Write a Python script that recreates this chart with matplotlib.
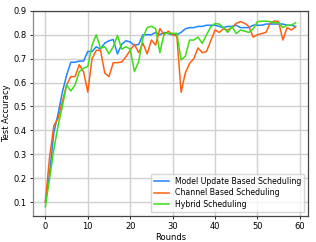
import matplotlib
matplotlib.use("Agg")
import matplotlib.pyplot as plt
import numpy as np

rounds = np.arange(60)

model_update = [0.10, 0.22, 0.39, 0.47, 0.56, 0.63, 0.685, 0.685, 0.69, 0.69,
                0.73, 0.73, 0.75, 0.74, 0.765, 0.775, 0.78, 0.72, 0.76, 0.775,
                0.77, 0.755, 0.76, 0.80, 0.80, 0.80, 0.81, 0.80, 0.81, 0.805,
                0.80, 0.80, 0.81, 0.825, 0.83, 0.83, 0.835, 0.835, 0.84, 0.84,
                0.84, 0.835, 0.83, 0.835, 0.835, 0.84, 0.83, 0.83, 0.83, 0.84,
                0.84, 0.84, 0.845, 0.845, 0.845, 0.845, 0.845, 0.84, 0.84, 0.835]

channel_based = [0.10, 0.29, 0.42, 0.45, 0.52, 0.59, 0.625, 0.625, 0.675, 0.645,
                 0.56, 0.70, 0.735, 0.735, 0.64, 0.625, 0.683, 0.683, 0.686, 0.708,
                 0.735, 0.76, 0.725, 0.765, 0.72, 0.778, 0.757, 0.826, 0.80, 0.815,
                 0.80, 0.795, 0.56, 0.64, 0.68, 0.70, 0.745, 0.725, 0.73, 0.775,
                 0.82, 0.81, 0.825, 0.82, 0.83, 0.848, 0.855, 0.848, 0.835, 0.79,
                 0.80, 0.805, 0.81, 0.848, 0.858, 0.855, 0.778, 0.83, 0.82, 0.833]

hybrid = [0.08, 0.20, 0.32, 0.42, 0.50, 0.59, 0.565, 0.59, 0.646, 0.66,
          0.667, 0.757, 0.80, 0.744, 0.75, 0.72, 0.75, 0.797, 0.74, 0.75,
          0.74, 0.646, 0.688, 0.787, 0.83, 0.836, 0.825, 0.725, 0.806, 0.806,
          0.806, 0.806, 0.695, 0.71, 0.778, 0.778, 0.79, 0.764, 0.80, 0.833,
          0.847, 0.845, 0.83, 0.81, 0.835, 0.805, 0.82, 0.815, 0.81, 0.825,
          0.855, 0.857, 0.857, 0.855, 0.85, 0.85, 0.83, 0.84, 0.84, 0.85]

labels = ["Model Update Based Scheduling", "Channel Based Scheduling", "Hybrid Scheduling"]
colors = ["#1f85ff", "#ff6010", "#3ddc1a"]

plt.rcParams["font.family"] = ["DejaVu Sans"]
plt.rcParams["font.size"] = 6

fig = plt.figure(figsize=(3.16, 2.42), dpi=100)
ax = fig.add_axes([0.104, 0.107, 0.871, 0.848])

for series, label, color in zip([model_update, channel_based, hybrid], labels, colors):
    ax.plot(rounds, series, color=color, lw=1.1, label=label)

ax.grid(True, color="#d0d0d0", lw=1.0)
ax.set_axisbelow(True)
ax.set_xticks([0, 10, 20, 30, 40, 50, 60])
ax.set_yticks([0.1, 0.2, 0.3, 0.4, 0.5, 0.6, 0.7, 0.8, 0.9])
ax.set_xlabel("Rounds", labelpad=1.5)
ax.set_ylabel("Test Accuracy", labelpad=1.5)
ax.tick_params(length=2.5, width=0.6, pad=2)
for side in ["left", "bottom", "top", "right"]:
    ax.spines[side].set_color("#444444")
    ax.spines[side].set_linewidth(0.9)
ax.spines["left"].set_color("#888888")

ax.legend(loc="lower right", fontsize=5.6, frameon=True, fancybox=False,
          edgecolor="#cccccc", handlelength=2.0, handletextpad=0.7,
          borderpad=0.4, labelspacing=0.35)

fig.savefig("out.png", dpi=100)
